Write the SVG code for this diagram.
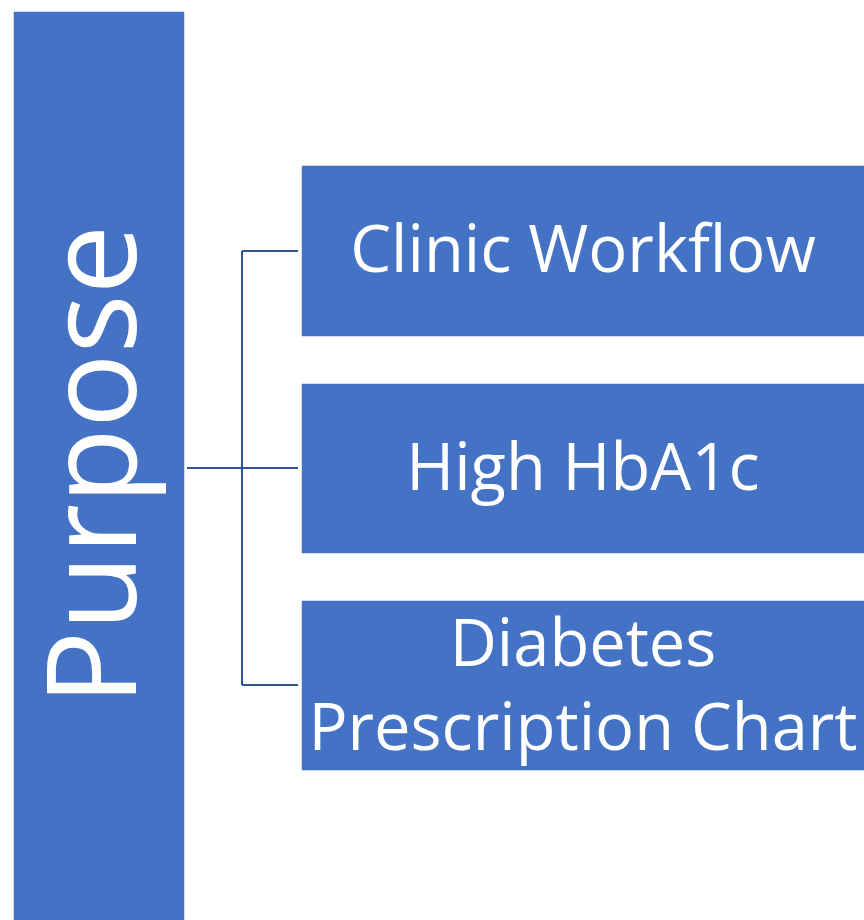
<svg xmlns="http://www.w3.org/2000/svg" width="864" height="920" viewBox="0 0 864 920">
<style>
.box{fill:#4472C4;stroke:#ffffff;stroke-width:1.5}
.t{fill:#ffffff;font-family:"Open Sans","Noto Sans",sans-serif;text-anchor:middle}
.c{fill:none;stroke:#2F5597;stroke-width:2}
</style>
<rect x="0" y="0" width="864" height="920" fill="#ffffff"/>
<g id="purpose">
<rect class="box" x="13" y="11" width="172" height="915"/>
<text class="t" font-size="124" transform="translate(136,465) rotate(-90)">Purpose</text>
</g>
<g id="connectors">
<path class="c" d="M187,468 H298 M242,251 V685 M242,251 H298 M242,685 H298"/>
</g>
<g id="clinic">
<rect class="box" x="301" y="165" width="570" height="172"/>
<text class="t" font-size="65" x="583" y="272">Clinic Workflow</text>
</g>
<g id="hba1c">
<rect class="box" x="301" y="383" width="570" height="171"/>
<text class="t" font-size="65" x="583" y="490">High HbA1c</text>
</g>
<g id="diabetes">
<rect class="box" x="301" y="600" width="570" height="171"/>
<text class="t" font-size="65" x="583" y="666">Diabetes</text>
<text class="t" font-size="65" x="583" y="750">Prescription Chart</text>
</g>
</svg>
